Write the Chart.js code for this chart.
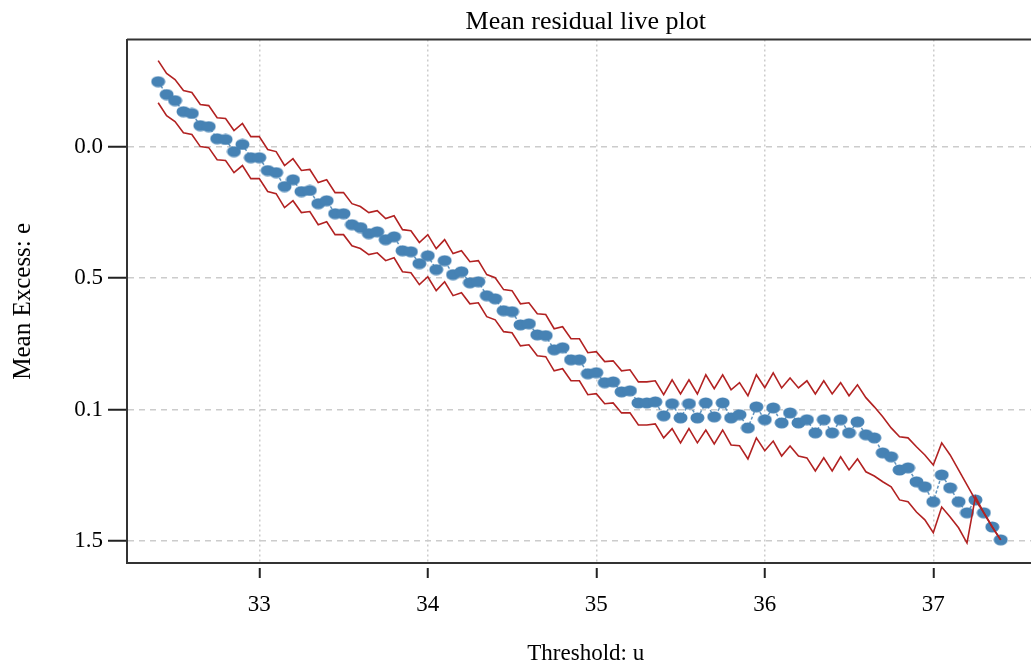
<!DOCTYPE html>
<html>
<head>
<meta charset="utf-8">
<script src="https://cdn.jsdelivr.net/npm/chart.js@4.4.1/dist/chart.umd.min.js"></script>
<style>
  html, body { margin: 0; padding: 0; background: #ffffff; overflow: hidden; }
  #wrap { position: relative; width: 1052px; height: 665px; }
</style>
</head>
<body>
<div id="wrap"><canvas id="c"></canvas></div>
<script>
const thresholds = [32.40,32.45,32.50,32.55,32.60,32.65,32.70,32.75,32.80,32.85,
  32.90,32.95,33.00,33.05,33.10,33.15,33.20,33.25,33.30,33.35,
  33.40,33.45,33.50,33.55,33.60,33.65,33.70,33.75,33.80,33.85,
  33.90,33.95,34.00,34.05,34.10,34.15,34.20,34.25,34.30,34.35,
  34.40,34.45,34.50,34.55,34.60,34.65,34.70,34.75,34.80,34.85,
  34.90,34.95,35.00,35.05,35.10,35.15,35.20,35.25,35.30,35.35,
  35.40,35.45,35.50,35.55,35.60,35.65,35.70,35.75,35.80,35.85,
  35.90,35.95,36.00,36.05,36.10,36.15,36.20,36.25,36.30,36.35,
  36.40,36.45,36.50,36.55,36.60,36.65,36.70,36.75,36.80,36.85,
  36.90,36.95,37.00,37.05,37.10,37.15,37.20,37.25,37.30,37.35,
  37.40];

const meanExcess = [-0.247,-0.198,-0.175,-0.133,-0.126,-0.080,-0.076,-0.030,-0.027,0.019,
  -0.008,0.042,0.042,0.091,0.099,0.152,0.126,0.171,0.167,0.217,
  0.206,0.255,0.255,0.297,0.308,0.331,0.324,0.354,0.343,0.396,
  0.400,0.445,0.415,0.468,0.434,0.487,0.476,0.518,0.514,0.567,
  0.579,0.624,0.628,0.678,0.674,0.716,0.719,0.773,0.765,0.811,
  0.811,0.864,0.860,0.898,0.895,0.933,0.929,0.975,0.975,0.971,
  1.024,0.978,1.032,0.978,1.032,0.975,1.028,0.975,1.032,1.020,
  1.070,0.990,1.039,0.994,1.051,1.013,1.051,1.039,1.089,1.039,
  1.089,1.039,1.089,1.047,1.096,1.108,1.165,1.180,1.230,1.222,
  1.275,1.294,1.351,1.249,1.298,1.351,1.393,1.344,1.393,1.447,
  1.496];

const upperCI = [-0.327,-0.278,-0.255,-0.213,-0.206,-0.160,-0.156,-0.110,-0.107,-0.061,
  -0.088,-0.038,-0.038,0.011,0.019,0.072,0.046,0.091,0.087,0.137,
  0.126,0.175,0.175,0.217,0.228,0.251,0.244,0.274,0.263,0.316,
  0.320,0.365,0.335,0.388,0.354,0.407,0.396,0.438,0.434,0.487,
  0.499,0.544,0.548,0.598,0.594,0.636,0.639,0.693,0.685,0.731,
  0.731,0.784,0.780,0.818,0.815,0.853,0.849,0.895,0.895,0.891,
  0.944,0.887,0.941,0.887,0.941,0.868,0.921,0.868,0.925,0.898,
  0.948,0.868,0.917,0.861,0.918,0.880,0.918,0.891,0.941,0.891,
  0.941,0.898,0.948,0.906,0.955,0.990,1.028,1.070,1.104,1.108,
  1.142,1.173,1.211,1.127,1.173,1.230,1.287,1.344,1.393,1.447,
  1.496];

const lowerCI = [-0.167,-0.118,-0.095,-0.053,-0.046,0.000,0.004,0.050,0.053,0.099,
  0.072,0.122,0.122,0.171,0.179,0.232,0.206,0.251,0.247,0.297,
  0.286,0.335,0.335,0.377,0.388,0.411,0.404,0.434,0.423,0.476,
  0.480,0.525,0.495,0.548,0.514,0.567,0.556,0.598,0.594,0.647,
  0.659,0.704,0.708,0.758,0.754,0.796,0.799,0.853,0.845,0.891,
  0.891,0.944,0.940,0.978,0.975,1.013,1.013,1.059,1.059,1.055,
  1.108,1.073,1.127,1.073,1.127,1.078,1.131,1.078,1.135,1.138,
  1.188,1.108,1.157,1.120,1.177,1.139,1.177,1.184,1.234,1.184,
  1.234,1.180,1.230,1.188,1.237,1.253,1.275,1.294,1.344,1.351,
  1.390,1.420,1.469,1.371,1.409,1.450,1.508,1.332,1.393,1.447,
  1.496];

const xTickValues = [33, 34, 35, 36, 37];
const yTickValues = [0, 0.5, 1.0, 1.5];
const yTickLabels = ["0.0", "0.5", "0.1", "1.5"];

const toXY = (ys) => thresholds.map((x, i) => ({ x: x, y: ys[i] }));

// elliptical marker
const marker = document.createElement('canvas');
marker.width = 15; marker.height = 12;
(function () {
  const g = marker.getContext('2d');
  g.fillStyle = '#4682B4';
  g.beginPath();
  g.ellipse(7.5, 6, 7, 5.5, 0, 0, Math.PI * 2);
  g.fill();
})();

const frame = {
  id: 'frame',
  afterDraw(chart) {
    const { ctx, chartArea } = chart;
    ctx.save();
    ctx.setLineDash([]);
    ctx.strokeStyle = '#333333';
    ctx.lineWidth = 2;
    ctx.beginPath();
    ctx.moveTo(chartArea.left, chartArea.top);
    ctx.lineTo(chartArea.right + 2, chartArea.top);
    ctx.stroke();
    ctx.restore();
  }
};

const serif = 'Liberation Serif';

new Chart(document.getElementById('c'), {
  type: 'line',
  data: {
    datasets: [
      {
        label: 'upper',
        data: toXY(upperCI),
        borderColor: '#B22222',
        borderWidth: 1.6,
        pointRadius: 0,
        tension: 0,
        fill: false
      },
      {
        label: 'lower',
        data: toXY(lowerCI),
        borderColor: '#B22222',
        borderWidth: 1.6,
        pointRadius: 0,
        tension: 0,
        fill: false
      },
      {
        label: 'mean excess',
        data: toXY(meanExcess),
        borderColor: 'rgba(70,130,180,0.85)',
        borderWidth: 1.5,
        borderDash: [3, 2],
        pointStyle: marker,
        pointRadius: 6,
        tension: 0,
        fill: false
      }
    ]
  },
  options: {
    responsive: true,
    maintainAspectRatio: false,
    animation: false,
    layout: { padding: { left: 0, right: 2, top: 0, bottom: 0 } },
    plugins: {
      legend: { display: false },
      tooltip: { enabled: false },
      title: {
        display: true,
        text: 'Mean residual live plot',
        fullSize: false,
        color: '#000000',
        font: { family: serif, size: 26, weight: 'normal', lineHeight: 1.1 },
        padding: { top: 8, bottom: 3 }
      }
    },
    scales: {
      x: {
        type: 'linear',
        min: 32.215,
        max: 37.66,
        afterBuildTicks: (s) => { s.ticks = xTickValues.map(v => ({ value: v })); },
        afterFit: (s) => { s.height = 102; },
        ticks: {
          color: '#000000',
          font: { family: serif, size: 23 },
          padding: 13,
          maxRotation: 0,
          callback: (v) => String(v)
        },
        grid: {
          color: '#cccccc',
          lineWidth: 1.5,
          tickColor: '#222222',
          tickWidth: 2,
          tickLength: 15,
          tickBorderDash: [0, 4, 11, 60]
        },
        border: { display: true, color: '#333333', width: 2, dash: [2, 3] },
        title: {
          display: true,
          text: 'Threshold: u',
          color: '#000000',
          font: { family: serif, size: 23, lineHeight: 1.0 },
          padding: { top: 0, bottom: 0 }
        }
      },
      y: {
        type: 'linear',
        reverse: true,
        min: -0.407,
        max: 1.584,
        afterBuildTicks: (s) => { s.ticks = yTickValues.map(v => ({ value: v })); },
        afterFit: (s) => { s.width = 127; },
        ticks: {
          color: '#000000',
          font: { family: serif, size: 23 },
          padding: 5,
          callback: (v) => {
            const k = yTickValues.indexOf(v);
            return k >= 0 ? yTickLabels[k] : '';
          }
        },
        grid: {
          color: '#cccccc',
          lineWidth: 1.5,
          tickColor: '#222222',
          tickWidth: 2,
          tickLength: 19,
          tickBorderDash: [1, 0]
        },
        border: { display: true, color: '#333333', width: 2, dash: [6, 5] },
        title: {
          display: true,
          text: 'Mean Excess: e',
          color: '#000000',
          font: { family: serif, size: 25, lineHeight: 1.2 },
          padding: { top: 8, bottom: 0 }
        }
      }
    }
  },
  plugins: [frame]
});
</script>
</body>
</html>
